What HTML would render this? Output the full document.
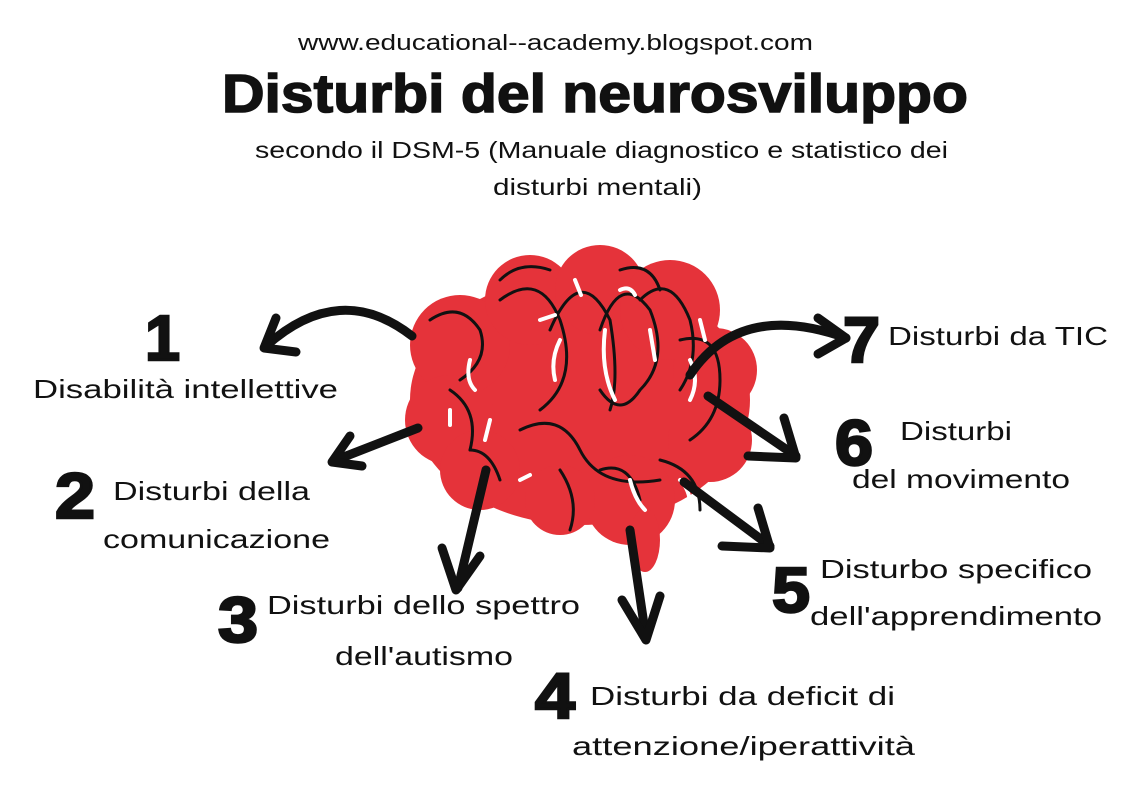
<!DOCTYPE html>
<html><head><meta charset="utf-8"><style>
html,body{margin:0;padding:0;background:#fff;}
svg{display:block;}
text{font-family:"Liberation Sans",sans-serif;fill:#111;}
.l{font-size:26px;}
.n{font-size:64px;font-weight:bold;stroke:#111;stroke-width:2.5;}
</style></head><body>
<svg width="1140" height="799" viewBox="0 0 1140 799">
<rect width="1140" height="799" fill="#fff"/>
<text x="298" y="50" font-size="22" textLength="515" lengthAdjust="spacingAndGlyphs" fill="#222">www.educational--academy.blogspot.com</text>
<text x="222" y="112" font-size="54" font-weight="bold" stroke="#111" stroke-width="1.5" textLength="746" lengthAdjust="spacingAndGlyphs">Disturbi del neurosviluppo</text>
<text x="255" y="158" font-size="23" textLength="693" lengthAdjust="spacingAndGlyphs" fill="#222">secondo il DSM-5 (Manuale diagnostico e statistico dei</text>
<text x="493" y="195" font-size="23" textLength="209" lengthAdjust="spacingAndGlyphs" fill="#222">disturbi mentali)</text>

<!-- brain -->
<g fill="#e5333a">
<ellipse cx="580" cy="400" rx="170" ry="125"/>
<circle cx="460" cy="345" r="50"/><circle cx="450" cy="420" r="45"/><circle cx="480" cy="470" r="40"/>
<circle cx="530" cy="300" r="45"/><circle cx="600" cy="290" r="45"/><circle cx="670" cy="310" r="50"/>
<circle cx="715" cy="370" r="42"/><circle cx="710" cy="440" r="42"/><circle cx="630" cy="500" r="45"/>
<circle cx="560" cy="500" r="35"/><ellipse cx="645" cy="540" rx="15" ry="32"/>
</g>
<g fill="none" stroke="#111" stroke-width="3" stroke-linecap="round">
<path d="M430 320 q30 -20 50 10 q10 30 -20 50"/>
<path d="M500 300 q40 -30 60 20 q20 60 -20 90"/>
<path d="M550 330 q30 -70 60 -10 q10 60 0 90"/>
<path d="M600 330 q20 -60 50 -20 q20 50 -10 80 q-20 30 -40 0"/>
<path d="M640 300 q30 -30 50 20 q10 40 -10 70"/>
<path d="M680 340 q40 -10 40 40 q0 40 -30 60"/>
<path d="M450 390 q30 20 20 60"/>
<path d="M520 430 q40 -20 60 20 q20 40 80 30"/>
<path d="M560 470 q20 30 10 60"/>
<path d="M600 470 q30 -10 40 30"/>
<path d="M660 460 q40 10 40 50"/>
<path d="M500 280 q20 -20 50 -10"/>
<path d="M620 270 q30 -10 40 20"/>
<path d="M470 450 q20 0 30 30"/>
</g>
<g fill="none" stroke="#fff" stroke-width="4" stroke-linecap="round">
<path d="M575 280 l6 15"/><path d="M620 290 q10 -5 15 5"/><path d="M560 340 q-10 20 -5 40"/>
<path d="M605 330 q-5 40 10 70"/><path d="M650 330 l5 30"/><path d="M690 360 q10 20 0 40"/>
<path d="M470 360 q-5 20 5 30"/><path d="M540 320 l15 -5"/><path d="M490 420 l-5 20"/>
<path d="M630 480 q5 20 15 30"/><path d="M680 480 q10 10 10 25"/><path d="M520 480 l10 -5"/>
<path d="M700 320 l5 20"/><path d="M450 410 l0 15"/>
</g>

<!-- arrows -->
<g fill="none" stroke="#111" stroke-width="9" stroke-linecap="round" stroke-linejoin="round">
<path d="M412 336 Q340 280 266 346"/><path d="M276 318 L264 348 L296 352"/>
<path d="M418 428 L336 460"/><path d="M350 436 L332 462 L362 466"/>
<path d="M486 470 L458 588"/><path d="M442 548 L456 590 L480 556"/>
<path d="M630 530 L646 638"/><path d="M622 600 L646 640 L660 596"/>
<path d="M684 482 L770 546"/><path d="M722 546 L770 548 L758 508"/>
<path d="M708 396 L796 456"/><path d="M748 456 L796 458 L784 418"/>
<path d="M690 375 Q740 300 846 338"/><path d="M818 318 L846 338 L818 354"/>
</g>

<!-- labels -->
<text class="n" x="145" y="360" textLength="35" lengthAdjust="spacingAndGlyphs">1</text>
<text class="l" x="33" y="398" textLength="305" lengthAdjust="spacingAndGlyphs">Disabilità intellettive</text>
<text class="n" x="55" y="518" textLength="40" lengthAdjust="spacingAndGlyphs">2</text>
<text class="l" x="113" y="500" textLength="197" lengthAdjust="spacingAndGlyphs">Disturbi della</text>
<text class="l" x="103" y="548" textLength="227" lengthAdjust="spacingAndGlyphs">comunicazione</text>
<text class="n" x="218" y="642" textLength="40" lengthAdjust="spacingAndGlyphs">3</text>
<text class="l" x="267" y="614" textLength="313" lengthAdjust="spacingAndGlyphs">Disturbi dello spettro</text>
<text class="l" x="335" y="665" textLength="178" lengthAdjust="spacingAndGlyphs">dell'autismo</text>
<text class="n" x="535" y="718" textLength="40" lengthAdjust="spacingAndGlyphs">4</text>
<text class="l" x="590" y="705" textLength="305" lengthAdjust="spacingAndGlyphs">Disturbi da deficit di</text>
<text class="l" x="572" y="755" textLength="343" lengthAdjust="spacingAndGlyphs">attenzione/iperattività</text>
<text class="n" x="772" y="612" textLength="38" lengthAdjust="spacingAndGlyphs">5</text>
<text class="l" x="820" y="578" textLength="272" lengthAdjust="spacingAndGlyphs">Disturbo specifico</text>
<text class="l" x="810" y="625" textLength="292" lengthAdjust="spacingAndGlyphs">dell'apprendimento</text>
<text class="n" x="835" y="465" textLength="38" lengthAdjust="spacingAndGlyphs">6</text>
<text class="l" x="900" y="440" textLength="112" lengthAdjust="spacingAndGlyphs">Disturbi</text>
<text class="l" x="852" y="488" textLength="218" lengthAdjust="spacingAndGlyphs">del movimento</text>
<text class="n" x="843" y="362" textLength="37" lengthAdjust="spacingAndGlyphs">7</text>
<text class="l" x="888" y="345" textLength="220" lengthAdjust="spacingAndGlyphs">Disturbi da TIC</text>
</svg>
</body></html>
